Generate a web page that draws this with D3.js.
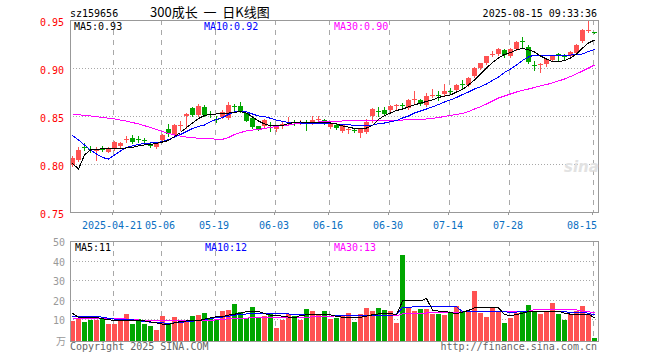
<!DOCTYPE html>
<html>
<head>
<meta charset="utf-8">
<script src="https://cdnjs.cloudflare.com/ajax/libs/d3/7.8.5/d3.min.js"></script>
<style>
  body { margin: 0; background: #fff; }
  svg text { font-family: "DejaVu Sans Mono", monospace; font-size: 10px; }
</style>
</head>
<body>
<div id="chart"></div>
<script>

// trading days shown on the chart
var dates = [
  "2025-04-10","2025-04-11","2025-04-14","2025-04-15","2025-04-16","2025-04-17","2025-04-18",
  "2025-04-21","2025-04-22","2025-04-23","2025-04-24","2025-04-25","2025-04-28","2025-04-29","2025-04-30",
  "2025-05-06","2025-05-07","2025-05-08","2025-05-09","2025-05-12","2025-05-13","2025-05-14","2025-05-15","2025-05-16",
  "2025-05-19","2025-05-20","2025-05-21","2025-05-22","2025-05-23","2025-05-26","2025-05-27","2025-05-28","2025-05-29","2025-05-30",
  "2025-06-03","2025-06-04","2025-06-05","2025-06-06","2025-06-09","2025-06-10","2025-06-11","2025-06-12","2025-06-13",
  "2025-06-16","2025-06-17","2025-06-18","2025-06-19","2025-06-20","2025-06-23","2025-06-24","2025-06-25","2025-06-26","2025-06-27",
  "2025-06-30","2025-07-01","2025-07-02","2025-07-03","2025-07-04","2025-07-07","2025-07-08","2025-07-09","2025-07-10","2025-07-11",
  "2025-07-14","2025-07-15","2025-07-16","2025-07-17","2025-07-18","2025-07-21","2025-07-22","2025-07-23","2025-07-24","2025-07-25",
  "2025-07-28","2025-07-29","2025-07-30","2025-07-31","2025-08-01","2025-08-04","2025-08-05","2025-08-06","2025-08-07","2025-08-08",
  "2025-08-11","2025-08-12","2025-08-13","2025-08-14","2025-08-15"
];

var open = [
  0.799,0.804,0.818,0.816,0.814,0.816,0.813,0.816,0.819,0.825,
  0.827,0.826,0.825,0.820,0.818,0.825,0.836,0.830,0.840,0.850,
  0.858,0.851,0.859,0.852,0.847,0.849,0.848,0.860,0.860,0.853,
  0.848,0.840,0.840,0.841,0.836,0.841,0.843,0.844,0.843,0.843,
  0.842,0.846,0.846,0.839,0.841,0.834,0.835,0.835,0.832,0.833,
  0.850,0.855,0.856,0.856,0.860,0.861,0.858,0.867,0.867,0.861,
  0.871,0.872,0.873,0.876,0.877,0.883,0.882,0.892,0.900,0.905,
  0.914,0.915,0.919,0.912,0.920,0.928,0.922,0.903,0.903,0.904,
  0.908,0.915,0.913,0.912,0.916,0.928,0.939,0.937
];
var high = [
  0.808,0.818,0.822,0.819,0.818,0.819,0.818,0.824,0.823,0.829,
  0.830,0.829,0.827,0.822,0.823,0.831,0.842,0.842,0.845,0.853,
  0.859,0.862,0.861,0.855,0.850,0.856,0.865,0.862,0.865,0.853,
  0.848,0.840,0.847,0.844,0.840,0.845,0.849,0.846,0.846,0.846,
  0.850,0.850,0.847,0.844,0.842,0.842,0.839,0.837,0.837,0.847,
  0.858,0.859,0.859,0.861,0.862,0.864,0.868,0.876,0.868,0.874,
  0.878,0.876,0.883,0.879,0.883,0.887,0.891,0.901,0.905,0.913,
  0.918,0.921,0.920,0.921,0.928,0.932,0.924,0.907,0.905,0.910,
  0.913,0.916,0.915,0.918,0.925,0.941,0.950,0.937
];
var low = [
  0.798,0.803,0.815,0.813,0.804,0.814,0.812,0.815,0.818,0.823,
  0.822,0.823,0.822,0.818,0.817,0.824,0.829,0.829,0.835,0.837,
  0.850,0.850,0.850,0.849,0.844,0.848,0.847,0.856,0.854,0.845,
  0.838,0.835,0.839,0.834,0.834,0.838,0.842,0.841,0.842,0.835,
  0.842,0.845,0.842,0.838,0.836,0.833,0.832,0.833,0.828,0.832,
  0.844,0.850,0.851,0.855,0.857,0.859,0.857,0.863,0.861,0.860,
  0.870,0.867,0.872,0.873,0.876,0.878,0.881,0.891,0.899,0.904,
  0.913,0.914,0.911,0.911,0.919,0.922,0.905,0.898,0.896,0.902,
  0.907,0.907,0.909,0.911,0.915,0.927,0.938,0.936
];
var close = [
  0.806,0.815,0.817,0.815,0.816,0.815,0.816,0.823,0.822,0.826,
  0.823,0.825,0.824,0.819,0.822,0.830,0.831,0.841,0.841,0.852,
  0.851,0.860,0.851,0.851,0.846,0.854,0.861,0.859,0.854,0.845,
  0.839,0.836,0.846,0.840,0.839,0.842,0.844,0.843,0.844,0.842,
  0.846,0.847,0.843,0.843,0.838,0.841,0.836,0.834,0.836,0.844,
  0.857,0.854,0.852,0.860,0.861,0.860,0.867,0.868,0.862,0.871,
  0.872,0.871,0.876,0.875,0.882,0.882,0.890,0.900,0.905,0.912,
  0.915,0.920,0.914,0.920,0.927,0.927,0.906,0.902,0.904,0.909,
  0.912,0.912,0.912,0.917,0.924,0.940,0.940,0.936
];

// price moving averages as drawn on the chart
var ma5 = [
  0.8005,0.7948,0.8094,0.8146,0.8151,0.8161,0.8164,0.8164,0.8164,0.8167,
  0.8172,0.8188,0.8198,0.8203,0.8214,0.8229,0.8245,0.8286,0.8328,0.8380,
  0.8427,0.8474,0.8505,0.8516,0.8521,0.8526,0.8531,0.8539,0.8545,0.8531,
  0.8490,0.8448,0.8417,0.8396,0.8396,0.8401,0.8422,0.8432,0.8438,0.8432,
  0.8427,0.8430,0.8432,0.8427,0.8417,0.8396,0.8385,0.8370,0.8365,0.8375,
  0.8401,0.8464,0.8505,0.8531,0.8557,0.8573,0.8594,0.8615,0.8635,0.8651,
  0.8667,0.8693,0.8708,0.8719,0.8750,0.8776,0.8823,0.8875,0.8938,0.9000,
  0.9057,0.9104,0.9141,0.9161,0.9188,0.9203,0.9188,0.9167,0.9125,0.9094,
  0.9068,0.9063,0.9078,0.9104,0.9146,0.9208,0.9260,0.9292
];
var ma10 = [
  0.8297,0.8250,0.8198,0.8146,0.8104,0.8068,0.8052,0.8094,0.8135,0.8172,
  0.8188,0.8203,0.8216,0.8219,0.8224,0.8234,0.8255,0.8281,0.8307,0.8339,
  0.8370,0.8391,0.8406,0.8441,0.8464,0.8484,0.8516,0.8542,0.8545,0.8542,
  0.8521,0.8500,0.8495,0.8476,0.8458,0.8443,0.8434,0.8432,0.8427,0.8424,
  0.8422,0.8420,0.8417,0.8419,0.8417,0.8414,0.8411,0.8401,0.8398,0.8396,
  0.8406,0.8419,0.8427,0.8441,0.8453,0.8479,0.8500,0.8531,0.8552,0.8573,
  0.8594,0.8620,0.8646,0.8667,0.8693,0.8724,0.8750,0.8781,0.8805,0.8833,
  0.8870,0.8906,0.8953,0.8990,0.9031,0.9078,0.9115,0.9135,0.9135,0.9135,
  0.9135,0.9135,0.9135,0.9135,0.9141,0.9146,0.9172,0.9193
];
var ma30 = [
  0.8521,0.8514,0.8506,0.8500,0.8493,0.8485,0.8477,0.8469,0.8458,0.8446,
  0.8432,0.8417,0.8399,0.8380,0.8359,0.8339,0.8318,0.8302,0.8290,0.8281,
  0.8274,0.8268,0.8268,0.8266,0.8257,0.8257,0.8276,0.8307,0.8328,0.8344,
  0.8354,0.8359,0.8370,0.8380,0.8391,0.8401,0.8406,0.8417,0.8424,0.8427,
  0.8430,0.8438,0.8441,0.8443,0.8446,0.8448,0.8448,0.8448,0.8448,0.8448,
  0.8448,0.8448,0.8448,0.8451,0.8453,0.8458,0.8460,0.8464,0.8466,0.8469,
  0.8476,0.8484,0.8495,0.8505,0.8516,0.8526,0.8547,0.8573,0.8597,0.8625,
  0.8656,0.8688,0.8708,0.8729,0.8750,0.8766,0.8781,0.8797,0.8813,0.8828,
  0.8844,0.8865,0.8885,0.8911,0.8938,0.8969,0.9000,0.9031
];

// volume in 万 and its moving averages
var volume = [
  9.0,10.3,8.3,9.3,9.3,10.0,7.4,7.4,9.0,12.6,
  7.4,10.0,7.4,6.6,4.3,11.5,7.4,11.0,9.0,9.0,
  11.5,12.0,12.9,10.7,10.0,14.1,14.6,17.7,13.8,10.7,
  16.3,11.0,11.7,12.9,5.5,9.5,12.4,11.5,9.5,15.1,
  14.1,12.0,14.1,10.0,10.7,11.5,12.9,8.6,12.6,15.8,
  14.1,15.8,14.6,14.1,8.1,42.9,15.8,14.1,15.1,15.1,
  12.6,12.6,12.0,13.2,16.7,14.1,13.4,24.4,13.2,11.2,
  15.5,13.4,8.1,10.7,13.2,14.1,17.2,13.8,12.6,14.1,
  18.2,12.6,9.5,12.6,14.1,16.7,12.6,0.4
];
var volMa5 = [
  12.9,10.9,10.7,10.7,10.7,10.2,9.6,9.4,9.2,9.0,
  9.0,9.0,9.0,8.5,8.0,7.4,7.3,8.0,8.7,9.0,
  9.0,9.0,10.0,10.6,11.2,11.2,12.0,12.5,13.0,13.8,
  13.8,13.8,12.8,12.0,11.7,11.5,11.0,10.6,11.8,12.2,
  12.4,12.4,12.4,12.1,11.4,10.9,10.9,10.9,10.9,11.5,
  12.2,12.6,12.8,12.9,12.1,19.3,19.3,19.3,19.3,20.6,
  14.5,14.1,14.1,13.3,12.8,13.6,14.4,15.8,15.8,15.8,
  15.8,15.8,12.3,11.7,12.3,13.0,13.8,14.1,14.1,14.1,
  14.1,14.1,13.0,12.5,12.4,12.4,12.4,10.7
];
var volMa10 = [
  11.5,11.2,11.2,11.2,11.2,11.0,10.4,10.0,10.0,10.0,
  9.6,9.1,8.8,8.4,8.2,8.0,7.8,8.0,8.3,8.6,
  8.9,9.3,9.7,10.2,10.7,11.0,11.4,12.0,12.3,12.6,
  12.9,12.8,12.6,12.6,12.6,12.6,12.6,12.4,12.2,12.1,
  12.1,12.1,12.1,12.1,11.8,11.7,11.7,11.7,11.7,11.7,
  11.7,11.7,11.7,11.7,12.5,15.8,16.0,16.3,16.3,16.3,
  16.3,16.3,16.3,16.3,16.3,13.8,14.0,14.1,14.1,14.1,
  14.1,14.1,13.8,13.4,13.6,13.8,13.8,13.8,13.8,13.8,
  13.8,13.8,13.8,13.4,13.4,13.4,13.0,12.1
];
var volMa30 = [
  10.4,10.4,10.4,10.4,10.4,10.4,10.4,10.3,10.2,10.0,
  9.8,9.5,9.3,9.2,9.1,9.1,9.1,9.1,9.1,9.1,
  9.1,9.2,9.2,9.3,9.6,9.9,10.1,10.3,10.4,10.5,
  10.6,10.6,10.6,10.7,10.7,10.7,10.8,10.8,10.9,10.9,
  11.1,11.2,11.3,11.5,11.6,11.7,11.7,11.7,11.7,11.7,
  11.7,11.7,11.7,11.7,11.7,12.6,12.8,12.9,13.0,13.1,
  13.2,13.3,13.3,13.3,13.4,13.7,14.1,14.1,14.1,14.1,
  14.1,14.1,14.1,14.1,14.1,14.1,14.1,14.8,15.1,15.1,
  15.1,15.1,15.0,14.8,14.7,14.1,13.8,13.1
];

// axis ticks
var dateTicks = ["2025-04-21","2025-05-06","2025-05-19","2025-06-03","2025-06-16","2025-06-30","2025-07-14","2025-07-28","2025-08-15"];
var priceTicks = [0.75, 0.80, 0.85, 0.90, 0.95];
var volTicks = [10, 20, 30, 40, 50];

var red = "#ff5252", green = "#00a600";
var gridColor = "#a8a8a8", borderColor = "#999";

var svgWidth = 660, svgHeight = 360;
var svg = d3.select("#chart")
  .append("svg")
  .attr("width", svgWidth)
  .attr("height", svgHeight);

// panels
var price = { left: 70, right: 598, top: 20, bottom: 212 };
var vol = { left: 70, right: 598, top: 241, bottom: 341 };

// scales
var x = d3.scaleBand().domain(dates).range([69, 597]);
function cx(d) { return x(d) + 3.5; }
function gx(d) { return x(d) + 1.5; }
var y = d3.scaleLinear().domain([0.75, 0.95]).range([price.bottom, price.top]);
var yVol = d3.scaleLinear().domain([-1.3, 50]).range([vol.bottom, 241.3]);

var rows = dates.map(function(d, i) {
  return { date: d, o: open[i], h: high[i], l: low[i], c: close[i], v: volume[i] };
});
function colorOf(r) { return r.c >= r.o ? red : green; }

// ---- grid ----
var grid = svg.append("g").attr("shape-rendering", "crispEdges");

grid.selectAll(".hgrid")
  .data([0.80, 0.85, 0.90])
  .enter()
  .append("line")
  .attr("x1", price.left).attr("x2", price.right)
  .attr("y1", d => Math.round(y(d)) + 0.5).attr("y2", d => Math.round(y(d)) + 0.5)
  .attr("stroke", gridColor)
  .attr("stroke-dasharray", "1,2");

grid.selectAll(".vhgrid")
  .data([10, 20, 30, 40])
  .enter()
  .append("line")
  .attr("x1", vol.left).attr("x2", vol.right)
  .attr("y1", d => Math.round(yVol(d)) + 0.5).attr("y2", d => Math.round(yVol(d)) + 0.5)
  .attr("stroke", gridColor)
  .attr("stroke-dasharray", "1,2");

[price, vol].forEach(function(p) {
  grid.selectAll(null)
    .data(dateTicks)
    .enter()
    .append("line")
    .attr("x1", d => Math.round(gx(d)) + 0.5).attr("x2", d => Math.round(gx(d)) + 0.5)
    .attr("y1", p.top).attr("y2", p.bottom)
    .attr("stroke", gridColor)
    .attr("stroke-dasharray", "5,5");
});

// ---- candles ----
var candles = svg.append("g").attr("shape-rendering", "crispEdges");

candles.selectAll(".wick")
  .data(rows)
  .enter()
  .append("line")
  .attr("x1", d => cx(d.date)).attr("x2", d => cx(d.date))
  .attr("y1", d => Math.round(y(d.h))).attr("y2", d => Math.round(y(d.l)) + 1)
  .attr("stroke", colorOf);

candles.selectAll(".body")
  .data(rows)
  .enter()
  .append("rect")
  .attr("x", d => x(d.date) + 1)
  .attr("width", 5)
  .attr("y", d => Math.round(y(Math.max(d.o, d.c))))
  .attr("height", d => Math.max(1, Math.round(y(Math.min(d.o, d.c))) - Math.round(y(Math.max(d.o, d.c)))))
  .attr("fill", colorOf);

// ---- volume bars ----
svg.append("g")
  .attr("shape-rendering", "crispEdges")
  .selectAll("rect")
  .data(rows)
  .enter()
  .append("rect")
  .attr("x", d => x(d.date) + 1)
  .attr("width", 5)
  .attr("y", d => Math.round(yVol(d.v)))
  .attr("height", d => vol.bottom - Math.round(yVol(d.v)))
  .attr("fill", colorOf);

// ---- moving average lines ----
function drawLine(values, scale, color) {
  var line = d3.line()
    .x((d, i) => cx(dates[i]))
    .y(d => scale(d));
  svg.append("path")
    .datum(values)
    .attr("d", line)
    .attr("fill", "none")
    .attr("stroke", color)
    .attr("stroke-width", 1)
    .attr("shape-rendering", "crispEdges");
}
drawLine(ma30, y, "#ff00ff");
drawLine(ma10, y, "#0000ff");
drawLine(ma5, y, "#000000");
drawLine(volMa30, yVol, "#ff00ff");
drawLine(volMa10, yVol, "#0000ff");
drawLine(volMa5, yVol, "#000000");

// ---- borders ----
[price, vol].forEach(function(p) {
  svg.append("rect")
    .attr("x", p.left + 0.5).attr("y", p.top + 0.5)
    .attr("width", p.right - p.left).attr("height", p.bottom - p.top)
    .attr("fill", "none")
    .attr("stroke", borderColor)
    .attr("shape-rendering", "crispEdges");
});

// ---- axes ----
var priceAxis = svg.append("g")
  .attr("transform", `translate(${price.left}, 0)`)
  .call(d3.axisLeft(y).tickValues(priceTicks).tickSize(0).tickPadding(6).tickFormat(d3.format(".2f")));
priceAxis.select(".domain").remove();
priceAxis.selectAll("text")
  .attr("fill", "#ff0000")
  .attr("dy", "0.5em")
  .style("font-family", "DejaVu Sans Mono")
  .style("font-size", "10px");

var volAxis = svg.append("g")
  .attr("transform", `translate(${vol.left}, 0)`)
  .call(d3.axisLeft(yVol).tickValues(volTicks).tickSize(0).tickPadding(5).tickFormat(d3.format("d")));
volAxis.select(".domain").remove();
volAxis.selectAll("text")
  .attr("fill", "#999")
  .attr("dy", "0.45em")
  .style("font-family", "DejaVu Sans Mono")
  .style("font-size", "10px");

var dateAxis = svg.append("g")
  .attr("transform", `translate(-2, ${price.bottom})`)
  .call(d3.axisBottom(x).tickValues(dateTicks).tickSize(3).tickPadding(7)
    .tickFormat((d, i) => i === 0 ? d : d.slice(5)));
dateAxis.select(".domain").remove();
dateAxis.selectAll("line").attr("stroke", borderColor).attr("transform", "translate(0.5,0)");
dateAxis.selectAll("text")
  .attr("fill", "#0a6fc2")
  .style("font-family", "DejaVu Sans Mono")
  .style("font-size", "10px");
dateAxis.selectAll(".tick:last-of-type text")
  .attr("text-anchor", "end")
  .attr("x", 5);

// ---- header texts ----
svg.append("text").attr("x", 70).attr("y", 17).text("sz159656");
svg.append("text")
  .attr("x", 150).attr("y", 17)
  .style("font-family", "'Noto Sans CJK SC'")
  .style("font-size", "13px")
  .text("300成长\u00a0\u00a0一\u00a0\u00a0日K线图");
svg.append("text").attr("x", 597).attr("y", 17).attr("text-anchor", "end").text("2025-08-15 09:33:36");

var f2 = d3.format(".2f"), f0 = d3.format(".0f");
var last = dates.length - 1;
var maLabels = [
  { x: 74, y: 29.5, t: "MA5:" + f2(ma5[last]), c: "#000" },
  { x: 204, y: 29.5, t: "MA10:" + f2(ma10[last]), c: "#0000ff" },
  { x: 334, y: 29.5, t: "MA30:" + f2(ma30[last]), c: "#ff00ff" },
  { x: 75, y: 250.5, t: "MA5:" + f0(volMa5[last]), c: "#000" },
  { x: 205, y: 250.5, t: "MA10:" + f0(volMa10[last]), c: "#0000ff" },
  { x: 334, y: 250.5, t: "MA30:" + f0(volMa30[last]), c: "#ff00ff" }
];
svg.selectAll(".malabel")
  .data(maLabels)
  .enter()
  .append("text")
  .attr("x", d => d.x).attr("y", d => d.y)
  .attr("fill", d => d.c)
  .text(d => d.t);

// unit, watermark and footer
svg.append("text")
  .attr("x", 66).attr("y", 345).attr("text-anchor", "end")
  .attr("fill", "#999")
  .style("font-family", "'Noto Sans CJK SC'")
  .text("万");
svg.append("text")
  .attr("x", 564).attr("y", 172)
  .attr("fill", "#e2e2e2")
  .style("font-family", "DejaVu Sans")
  .style("font-size", "15px")
  .style("font-style", "italic")
  .style("font-weight", "bold")
  .text("sina");
svg.append("text").attr("x", 70).attr("y", 350).attr("fill", "#666").text("Copyright 2025 SINA.COM");
svg.append("text").attr("x", 597).attr("y", 350).attr("text-anchor", "end").attr("fill", "#666").text("http://finance.sina.com.cn");

</script>
</body>
</html>
